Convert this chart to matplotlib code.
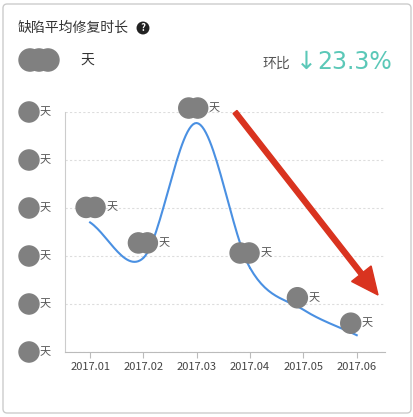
import numpy as np
import matplotlib
matplotlib.use("Agg")
import matplotlib.pyplot as plt
from matplotlib.patches import FancyBboxPatch

plt.rcParams['font.family'] = ['Noto Sans CJK SC', 'DejaVu Sans']

months = ["2017.01", "2017.02", "2017.03", "2017.04", "2017.05", "2017.06"]
values = [2.7, 1.96, 4.77, 1.75, 0.88, 0.35]
yticks = [0, 1, 2, 3, 4, 5]

W, H = 414, 417
fig = plt.figure(figsize=(W/100, H/100), dpi=100)
def fx(x): return x / W
def fy(y): return 1 - y / H

fig.patches.append(FancyBboxPatch((fx(3), fy(413)), fx(408), fy(4) - fy(413),
                                  boxstyle="round,pad=0,rounding_size=0.01", transform=fig.transFigure,
                                  fc="none", ec="#cccccc", lw=1, zorder=-1))

ax = fig.add_axes([fx(65), fy(352), fx(385) - fx(65), fy(112) - fy(352)])
ax.set_zorder(2)
ax.patch.set_alpha(0)
x = np.arange(len(months))
# Catmull-Rom smoothing through the data points
pts = np.array(list(zip(x, values)), float)
ext = np.vstack([2*pts[0]-pts[1], pts, 2*pts[-1]-pts[-2]])
curve = []
for i in range(1, len(ext) - 2):
    p0, p1, p2, p3 = ext[i-1], ext[i], ext[i+1], ext[i+2]
    for t in np.linspace(0, 1, 30):
        curve.append(0.5*((2*p1) + (-p0+p2)*t + (2*p0-5*p1+4*p2-p3)*t**2 + (-p0+3*p1-3*p2+p3)*t**3))
curve = np.array(curve)
ax.plot(curve[:, 0], curve[:, 1], color="#4a90e2", lw=1.5)

ax.set_xlim(-0.47, 5.53)
ax.set_ylim(0, 5)
ax.set_yticks(yticks)
ax.set_yticklabels([])
ax.tick_params(axis='y', length=0)
ax.set_xticks(x)
ax.set_xticklabels(months, fontsize=8, color="#444444")
ax.tick_params(axis='x', length=4, color="#bbbbbb")
ax.grid(axis='y', ls=(0, (2, 2)), color="#dddddd", lw=0.8)
for s in ["top", "right"]:
    ax.spines[s].set_visible(False)
ax.spines["left"].set_color("#cccccc")
ax.spines["bottom"].set_color("#bbbbbb")

blob = "#808080"
def gray_blob(px, py, n=2, r=9):
    for k in range(n):
        fig.patches.append(plt.Circle((fx(px + k*9), fy(py)), r / W, transform=fig.transFigure,
                                      color=blob, zorder=5))

# y-axis labels
for v in yticks:
    py = 352 - v * 48
    gray_blob(29, py, 1, 10)
    fig.text(fx(40), fy(py), "天", fontsize=8, color="#555555", va="center")

# point labels
offsets = [(-4, -15), (-5, -15), (-8, -15), (-10, -15), (-6, -12), (-6, -12)]
for i, v in enumerate(values):
    disp = ax.transData.transform((i, v))
    px, py = disp[0], H - disp[1]
    ox, oy = offsets[i]
    n = 2 if i < 4 else 1
    gray_blob(px + ox, py + oy, n, 10)
    fig.text(fx(px + ox + 9*(n-1) + 11), fy(py + oy), "天", fontsize=8, color="#555555", va="center")

# header
fig.text(fx(18), fy(28), "缺陷平均修复时长", fontsize=10, color="#333333", va="center")
fig.text(fx(143), fy(28), "?", fontsize=7, color="white", va="center", ha="center", weight="bold",
         bbox=dict(boxstyle="circle,pad=0.15", fc="#222222", ec="none"))
gray_blob(30, 60, 3, 11)
fig.text(fx(80), fy(60), "天", fontsize=10, color="#333333", va="center")
fig.text(fx(262), fy(64), "环比", fontsize=10, color="#555555", va="center")
fig.text(fx(296), fy(62), "↓", fontsize=18, color="#5bc8b8", va="center", family=["DejaVu Sans"])
fig.text(fx(392), fy(62), "23.3%", fontsize=17, color="#5bc8b8", va="center", ha="right",
         family=["DejaVu Sans"])

# red arrow
fig.patches.append(matplotlib.patches.FancyArrow(fx(235), fy(112), fx(378) - fx(235), fy(295) - fy(112),
                                                 width=0.012, head_width=0.06, head_length=0.065,
                                                 length_includes_head=True, transform=fig.transFigure,
                                                 color="#d9331f", zorder=6))

fig.savefig("out.png", dpi=100)
